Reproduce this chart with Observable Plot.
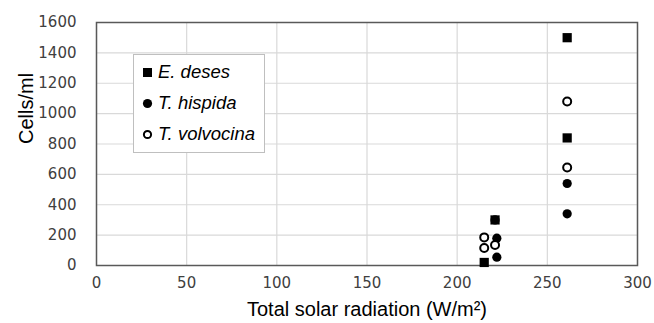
<!DOCTYPE html>
<html>
<head>
<meta charset="utf-8">
<script src="https://cdn.jsdelivr.net/npm/d3@7"></script>
<script src="https://cdn.jsdelivr.net/npm/@observablehq/plot@0.6"></script>
<style>
  body { margin: 0; background: #fff; }
  #chart { position: relative; width: 654px; height: 323px; }
  #legend {
    position: absolute; left: 133px; top: 54px; width: 132px; height: 99px;
    border: 1px solid #bfbfbf; background: #fff; box-sizing: border-box;
    font: italic 18.5px "Liberation Sans", Arial, sans-serif; color: #000;
  }
  #legend .row { position: absolute; left: 0; height: 22px; display: flex; align-items: center; white-space: nowrap; }
  #legend svg { margin-left: 8px; margin-right: 5px; }
</style>
</head>
<body>
<div id="chart"></div>
<script>
// Cell densities of three ciliate species against total solar radiation
const species = ["E. deses", "T. hispida", "T. volvocina"];
const eDesesRad = [261, 261, 221, 215];
const eDesesCells = [1500, 840, 300, 20];
const tHispidaRad = [261, 261, 221, 222, 222];
const tHispidaCells = [540, 340, 300, 180, 55];
const tVolvocinaRad = [261, 261, 215, 215, 221];
const tVolvocinaCells = [1080, 645, 185, 115, 135];
const xTicks = [0, 50, 100, 150, 200, 250, 300];
const yTicks = [0, 200, 400, 600, 800, 1000, 1200, 1400, 1600];

const toRows = (rad, cells, name) => rad.map((r, i) => ({rad: r, cells: cells[i], species: name}));
const eDeses = toRows(eDesesRad, eDesesCells, species[0]);
const tHispida = toRows(tHispidaRad, tHispidaCells, species[1]);
const tVolvocina = toRows(tVolvocinaRad, tVolvocinaCells, species[2]);

const tickFont = '"DejaVu Sans", Verdana, sans-serif';
const titleFont = '"Liberation Sans", Arial, sans-serif';

const plot = Plot.plot({
  width: 654,
  height: 323,
  marginLeft: 96,
  marginRight: 17,
  marginTop: 22,
  marginBottom: 58,
  style: {background: "#fff", fontFamily: tickFont, fontSize: "15px", color: "#404040"},
  x: {domain: [0, 300], ticks: xTicks},
  y: {domain: [0, 1600], ticks: yTicks},
  marks: [
    Plot.gridY(yTicks, {stroke: "#d9d9d9", strokeOpacity: 1, strokeWidth: 1.2}),
    Plot.gridX(xTicks, {stroke: "#d9d9d9", strokeOpacity: 1, strokeWidth: 1.2}),
    Plot.frame({stroke: "#595959", strokeWidth: 1.5}),
    Plot.axisY(yTicks, {tickSize: 0, tickPadding: 20, fontSize: 15, fill: "#404040", label: null, tickFormat: d => String(d)}),
    Plot.axisX(xTicks, {tickSize: 0, tickPadding: 12, fontSize: 15, fill: "#404040", label: null, tickFormat: d => String(d)}),
    Plot.text(["Total solar radiation (W/m²)"], {frameAnchor: "bottom", dy: 50, fontSize: 20, fontFamily: titleFont, fill: "#000"}),
    Plot.text(["Cells/ml"], {frameAnchor: "left", dx: -70, rotate: -90, fontSize: 20, fontFamily: titleFont, fill: "#000"}),
    Plot.dot(eDeses, {x: "rad", y: "cells", symbol: "square", r: 5.2, fill: "#000"}),
    Plot.dot(tHispida, {x: "rad", y: "cells", symbol: "circle", r: 4.6, fill: "#000"}),
    Plot.dot(tVolvocina, {x: "rad", y: "cells", symbol: "circle", r: 4, fill: "#fff", stroke: "#000", strokeWidth: 2})
  ]
});

const chart = document.getElementById("chart");
chart.appendChild(plot);

// Legend box drawn over the plot area
const legend = document.createElement("div");
legend.id = "legend";
const glyphs = [
  '<rect x="1" y="1" width="9" height="9" fill="#000"/>',
  '<circle cx="5.5" cy="5.5" r="4.6" fill="#000"/>',
  '<circle cx="5.5" cy="5.5" r="3.6" fill="#fff" stroke="#000" stroke-width="2"/>'
];
species.forEach((name, i) => {
  const row = document.createElement("div");
  row.className = "row";
  row.style.top = (6 + i * 31) + "px";
  row.innerHTML = `<svg width="11" height="11">${glyphs[i]}</svg><span>${name}</span>`;
  legend.appendChild(row);
});
chart.appendChild(legend);
</script>
</body>
</html>
